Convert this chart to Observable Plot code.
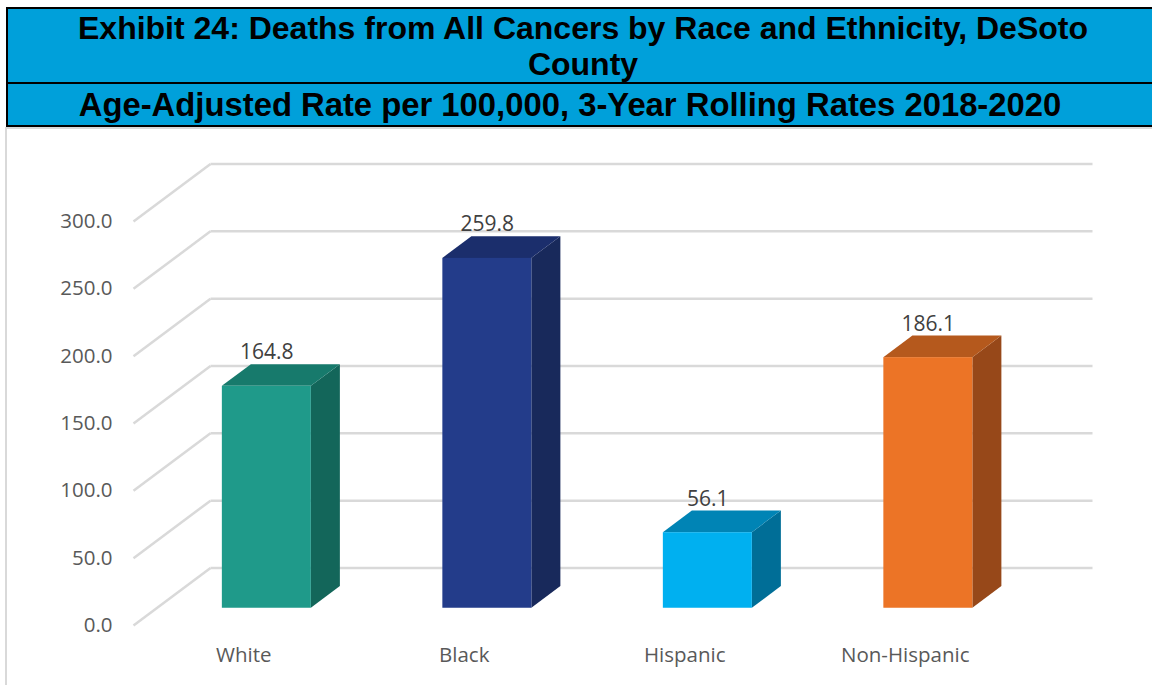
<!DOCTYPE html>
<html>
<head>
<meta charset="utf-8">
<script src="https://cdn.jsdelivr.net/npm/d3@7"></script>
<script src="https://cdn.jsdelivr.net/npm/@observablehq/plot@0.6"></script>
<style>
  html, body { margin: 0; padding: 0; background: #fff; overflow: hidden; width: 1152px; height: 685px; }
  #banner { position: absolute; left: 6px; top: 7px; width: 1160px; border: 2px solid #000; background: #00A0DA;
    font-family: "Liberation Sans", Arial, sans-serif; font-weight: bold; color: #000; }
  #t1 { height: 73px; line-height: 36px; font-size: 32px; text-align: center; display: flex; align-items: center; justify-content: center; border-bottom: 2px solid #000; padding-right: 10px; }
  #t2 { height: 41px; line-height: 41px; font-size: 32.8px; text-align: center; padding-right: 36px; }
  #frame { position: absolute; left: 5px; top: 127px; width: 1200px; height: 600px; border-left: 2px solid #D9D9D9; border-top: 2px solid #D9D9D9; }
  #chart { position: absolute; left: 0; top: 128px; }
</style>
</head>
<body>
<div id="banner">
  <div id="t1"><div>Exhibit 24: Deaths from All Cancers by Race and Ethnicity, DeSoto<br>County</div></div>
  <div id="t2">Age-Adjusted Rate per 100,000, 3-Year Rolling Rates 2018-2020</div>
</div>
<div id="frame"></div>
<div id="chart"></div>
<script>
// ---- data ----
const categories = ["White", "Black", "Hispanic", "Non-Hispanic"];
const values = [164.8, 259.8, 56.1, 186.1];
const frontColors = ["#1F9A8A", "#233C8A", "#00B0F0", "#EC7426"];
const topColors = ["#177A6C", "#1B2E6C", "#0084B5", "#B5591D"];
const sideColors = ["#13665A", "#18295B", "#006E97", "#974819"];
const yTicks = [0, 50, 100, 150, 200, 250, 300];

// ---- oblique 3D projection expressed in scale units ----
const W = 1152, H = 557;
const mL = 133, mR = 137, mT = 93, mB = 60;
const stepPx = (W - mL - mR) / categories.length;      // px per category unit
const pxPerVal = (H - mT - mB) / 300;                   // px per value unit
const K = 77 / stepPx;        // x-offset (category units) at full depth
const M = 57.5 / pxPerVal;    // y-offset (value units) at full depth
const D0 = 0.3, D1 = 0.677;   // bar depth span
const BW = 89 / stepPx;       // bar width (category units)

const grid = {stroke: "#D9D9D9", strokeWidth: 2.5};
const marks = [
  // left wall diagonals
  Plot.link(yTicks, {x1: () => 0, y1: d => d, x2: () => K, y2: d => d + M, ...grid}),
  // back wall horizontal gridlines
  Plot.link(yTicks, {x1: () => K, y1: d => d + M, x2: () => categories.length + K, y2: d => d + M, ...grid}),
  Plot.axisY({ticks: yTicks, tickFormat: d => d.toFixed(1), tickSize: 0, tickPadding: 21, label: null})
];

categories.forEach((c, i) => {
  const v = values[i];
  const xl = i + 0.5 - BW / 2, xr = i + 0.5 + BW / 2;
  // side face
  marks.push(Plot.areaY([D0, D1], {
    x: d => xr + d * K, y1: d => d * M, y2: d => v + d * M, fill: sideColors[i]
  }));
  // top face
  marks.push(Plot.areaX([D0, D1], {
    y: d => v + d * M, x1: d => xl + d * K, x2: d => xr + d * K, fill: topColors[i]
  }));
  // front face
  marks.push(Plot.rect([v], {
    x1: () => xl + D0 * K, x2: () => xr + D0 * K, y1: () => D0 * M, y2: d => d + D0 * M, fill: frontColors[i]
  }));
});

// value labels
marks.push(Plot.text(values, {
  x: (d, i) => i + 0.5 + D0 * K, y: d => d + D1 * M, dy: -12,
  text: d => d.toFixed(1), fill: "#404040", fontSize: 21
}));
// category labels
marks.push(Plot.text(categories, {
  x: (d, i) => i + 0.5, y: () => 0, dy: 30, text: d => d, fill: "#595959"
}));

const plot = Plot.plot({
  width: W, height: H,
  marginLeft: mL, marginRight: mR, marginTop: mT, marginBottom: mB,
  x: {domain: [0, categories.length], axis: null},
  y: {domain: [0, 300], axis: null},
  style: {fontFamily: "'Open Sans', sans-serif", fontSize: "20.5px", color: "#595959", background: "transparent", overflow: "visible"},
  marks
});
document.getElementById("chart").appendChild(plot);
</script>
</body>
</html>
